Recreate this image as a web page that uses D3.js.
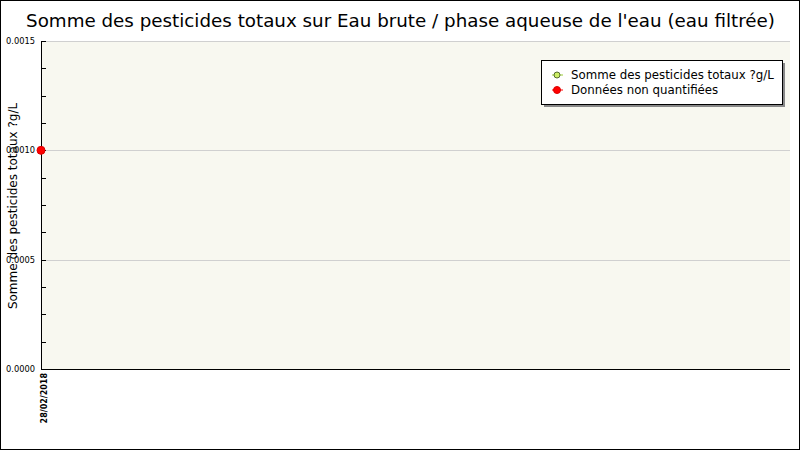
<!DOCTYPE html>
<html>
<head>
<meta charset="utf-8">
<script src="https://cdn.jsdelivr.net/npm/d3@7"></script>
<style>
  body { margin: 0; background: #fff; }
  svg { display: block; font-family: "DejaVu Sans", sans-serif; }
</style>
</head>
<body>
<script>
// data
var dates = ["28/02/2018"];
var values = [0.0010];
var quantified = [false];
var yTicks = [0, 0.0005, 0.0010, 0.0015];
var legendLabels = ["Somme des pesticides totaux ?g/L", "Données non quantifiées"];

var W = 800, H = 450;
var margin = {top: 41, right: 10, bottom: 81, left: 41},
  width = W - margin.left - margin.right,
  height = H - margin.top - margin.bottom;

var svg = d3.select("body").append("svg")
  .attr("width", W)
  .attr("height", H);

// outer frame
svg.append("rect")
  .attr("x", 0.5).attr("y", 0.5)
  .attr("width", W - 1).attr("height", H - 1)
  .attr("fill", "#fff").attr("stroke", "#000");

svg.append("text")
  .attr("x", W / 2 + 0.5).attr("y", 27)
  .attr("text-anchor", "middle")
  .attr("font-size", 18.3)
  .text("Somme des pesticides totaux sur Eau brute / phase aqueuse de l'eau (eau filtrée)");

var g = svg.append("g")
  .attr("transform", "translate(" + margin.left + "," + margin.top + ")");

var x = d3.scalePoint().domain(dates).range([0, width]).align(0);
var y = d3.scaleLinear().domain([0, 0.0015]).range([height, 0]);

g.append("rect")
  .attr("width", width).attr("height", height)
  .attr("fill", "#f8f8f0");

// grid
g.selectAll("line.grid")
  .data(yTicks.slice(1))
  .enter().append("line")
  .attr("class", "grid")
  .attr("x1", 0).attr("x2", width)
  .attr("y1", function(d) { return Math.round(y(d)) + 0.5; })
  .attr("y2", function(d) { return Math.round(y(d)) + 0.5; })
  .attr("stroke", "#d0d0d0");

// y axis: ticks inside, minor ticks every 0.000125
var minor = d3.range(0, 0.0015 + 1e-9, 0.000125);
g.selectAll("line.minor")
  .data(minor)
  .enter().append("line")
  .attr("class", "minor")
  .attr("x1", 0).attr("x2", 5)
  .attr("y1", function(d) { return Math.round(y(d)) + 0.5; })
  .attr("y2", function(d) { return Math.round(y(d)) + 0.5; })
  .attr("stroke", "#000");

var yAxis = g.append("g")
  .call(d3.axisLeft(y).tickValues(yTicks).tickSize(0).tickPadding(6)
    .tickFormat(d3.format(".4f")));
yAxis.select(".domain").remove();
yAxis.selectAll("text")
  .attr("font-family", "DejaVu Sans, sans-serif")
  .attr("font-size", 8.3)
  .attr("fill", "#000")
  .attr("dy", "0.32em");

g.append("line")
  .attr("x1", 0.5).attr("x2", 0.5)
  .attr("y1", 0).attr("y2", height)
  .attr("stroke", "#000");

// x axis
g.append("line")
  .attr("x1", 0).attr("x2", width)
  .attr("y1", height + 0.5).attr("y2", height + 0.5)
  .attr("stroke", "#000");

var xAxis = g.append("g")
  .attr("transform", "translate(0," + height + ")")
  .call(d3.axisBottom(x).tickSize(0));
xAxis.select(".domain").remove();
xAxis.selectAll("text")
  .attr("font-family", "DejaVu Sans, sans-serif")
  .attr("font-size", 8)
  .attr("font-weight", "bold")
  .attr("fill", "#000")
  .attr("text-anchor", "end")
  .attr("transform", "translate(5,4) rotate(-90)")
  .attr("dy", 0).attr("y", 0).attr("x", 0);

// y label
svg.append("text")
  .attr("transform", "translate(17," + (margin.top + height / 2 + 1) + ") rotate(-90)")
  .attr("text-anchor", "middle")
  .attr("font-size", 12)
  .text("Somme des pesticides totaux ?g/L");

// points
g.selectAll("circle.pt")
  .data(values)
  .enter().append("circle")
  .attr("class", "pt")
  .attr("cx", function(d, i) { return x(dates[i]); })
  .attr("cy", function(d) { return y(d); })
  .attr("r", 4)
  .attr("fill", function(d, i) { return quantified[i] ? "#ccdd66" : "#ff0000"; })
  .attr("stroke", function(d, i) { return quantified[i] ? "#556b2f" : "#dd0000"; });

// legend
var lg = svg.append("g").attr("transform", "translate(541,60)");
lg.append("rect").attr("x", 3).attr("y", 3).attr("width", 241).attr("height", 44).attr("fill", "#888");
lg.append("rect").attr("x", 0.5).attr("y", 0.5).attr("width", 241).attr("height", 44)
  .attr("fill", "#fff").attr("stroke", "#000");

var legColors = [{line: "#99cc33", fill: "#ccee66", stroke: "#556b2f"},
                 {line: "#ff0000", fill: "#ff0000", stroke: "#dd0000"}];
legendLabels.forEach(function(lab, i) {
  var yy = 15 + i * 15;
  lg.append("line").attr("x1", 11).attr("x2", 22).attr("y1", yy).attr("y2", yy)
    .attr("stroke", legColors[i].line);
  lg.append("circle").attr("cx", 16).attr("cy", yy).attr("r", i ? 3.5 : 3)
    .attr("fill", legColors[i].fill).attr("stroke", legColors[i].stroke);
  lg.append("text").attr("x", 30).attr("y", yy + 4)
    .attr("font-size", 11.8)
    .text(lab);
});
</script>
</body>
</html>
